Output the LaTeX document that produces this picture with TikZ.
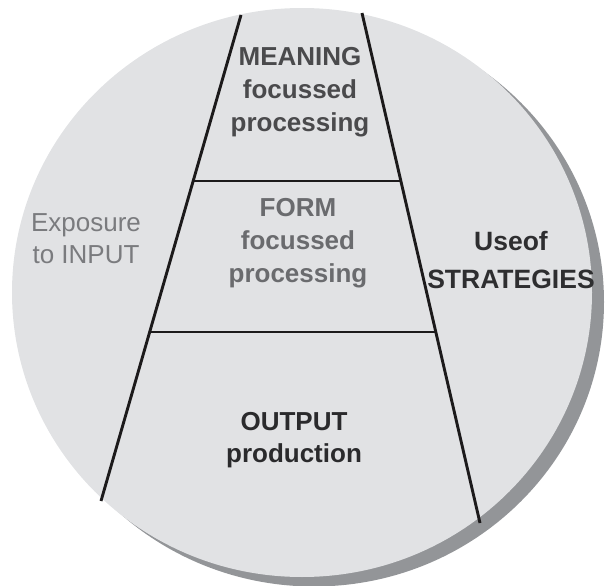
\documentclass[tikz,border=0pt]{standalone}
\usepackage{fontspec}
\setmainfont{Liberation Sans}
\definecolor{discfill}{HTML}{E1E2E4}
\definecolor{discshadow}{HTML}{939598}
\definecolor{linecol}{HTML}{1C1A1B}
\definecolor{meaningcol}{HTML}{4A4A4C}
\definecolor{formcol}{HTML}{6A6B6E}
\definecolor{inputcol}{HTML}{7A7B7E}
\definecolor{stratcol}{HTML}{2E2E30}
\definecolor{outputcol}{HTML}{2A2A2C}
\tikzset{
  divider/.style={draw=linecol, line width=2.9pt},
  lbl/.style={align=center},
}
\begin{document}
\begin{tikzpicture}[x=1pt,y=-1pt]
\useasboundingbox (0,0) rectangle (606,586);
% disc with shadow
\fill[discshadow] (314,302) ellipse [x radius=290, y radius=284.5];
\fill[discfill] (302,292.5) ellipse [x radius=290, y radius=284.5];
% funnel lines
\coordinate (lt) at (241,15);
\coordinate (lb) at (101,501);
\coordinate (rt) at (362,13);
\coordinate (rb) at (480,523);
\coordinate (h1l) at (193,181);
\coordinate (h1r) at (401,181);
\coordinate (h2l) at (150,332);
\coordinate (h2r) at (436,332);
\draw[divider] (lt) -- (lb);
\draw[divider] (rt) -- (rb);
\draw[divider] (h1l) -- (h1r);
\draw[divider] (h2l) -- (h2r);
% labels
\node[lbl, text=meaningcol, font=\fontsize{26}{33}\selectfont\bfseries] (meaning) at (300,92) {MEANING\\focussed\\processing};
\node[lbl, text=formcol, font=\fontsize{26}{33}\selectfont\bfseries] (form) at (298,243) {FORM\\focussed\\processing};
\node[lbl, text=inputcol, font=\fontsize{26}{32}\selectfont] (input) at (86,239) {Exposure\\to INPUT};
\node[lbl, text=stratcol, font=\fontsize{26.5}{38}\selectfont\bfseries] (strat) at (511,260) {Useof\\STRATEGIES};
\node[lbl, text=outputcol, font=\fontsize{26}{32}\selectfont\bfseries] (output) at (294,440) {OUTPUT\\production};
\end{tikzpicture}
\end{document}
